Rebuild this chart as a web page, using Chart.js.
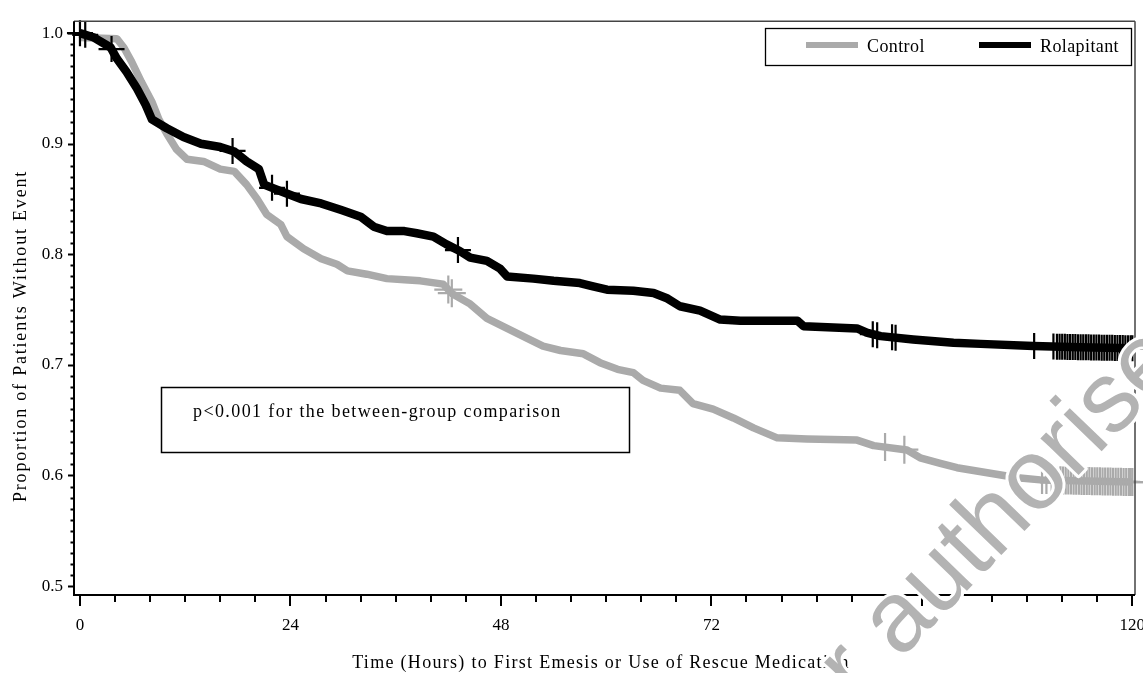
<!DOCTYPE html>
<html>
<head>
<meta charset="utf-8">
<script src="https://cdn.jsdelivr.net/npm/chart.js@4"></script>
<style>
  html, body { margin: 0; padding: 0; background: #fff; }
  #wrap { width: 1143px; height: 673px; }
</style>
</head>
<body>
<div id="wrap"><canvas id="kmChart" width="1143" height="673"></canvas></div>
<script>
// Kaplan-Meier estimates (hours, proportion without event)
const rolaTimes = [0, 1.6, 3.5, 4.2, 5.3, 6.5, 7.5, 8.2, 9.9, 11.8, 13.8, 16, 17.6, 19, 20.4, 21, 22.9, 25.2, 27.5, 29.8, 32, 33.5, 35, 37, 38.4, 40.3, 41.8, 43.3, 44.5, 46.4, 47.9, 48.7, 51.7, 54, 57, 58.5, 60.1, 63.1, 65.4, 67, 68.4, 70.7, 73, 75.3, 81.8, 82.5, 88.6, 89.8, 91.3, 95, 99.6, 102.7, 108.7, 114, 120];
const rolaValues = [1.0, 0.996, 0.987, 0.977, 0.965, 0.95, 0.935, 0.922, 0.914, 0.906, 0.900, 0.897, 0.893, 0.884, 0.877, 0.863, 0.857, 0.850, 0.846, 0.840, 0.834, 0.825, 0.821, 0.821, 0.819, 0.816, 0.809, 0.803, 0.797, 0.794, 0.787, 0.780, 0.778, 0.776, 0.774, 0.771, 0.768, 0.767, 0.765, 0.760, 0.753, 0.749, 0.741, 0.740, 0.740, 0.735, 0.733, 0.729, 0.726, 0.723, 0.720, 0.719, 0.717, 0.716, 0.715];

const ctrlTimes = [0, 4.2, 5, 5.9, 7, 8.2, 9, 9.9, 11, 12.2, 14.1, 16, 17.6, 19, 20.2, 21.3, 22.9, 23.6, 25.5, 27.5, 29.3, 30.5, 32.7, 35, 37, 38.8, 41.4, 42.5, 44.5, 46.4, 48.7, 51, 52.8, 54.8, 57.4, 59.3, 61.3, 63.1, 64.2, 66.2, 68.4, 69.9, 72.2, 74.5, 76.8, 79.5, 82.9, 88.6, 90.5, 94.3, 95.8, 98.1, 100, 103.8, 106.9, 109.5, 120];
const ctrlValues = [0.996, 0.995, 0.987, 0.974, 0.956, 0.938, 0.922, 0.909, 0.895, 0.886, 0.884, 0.877, 0.875, 0.863, 0.850, 0.836, 0.827, 0.816, 0.805, 0.796, 0.791, 0.785, 0.782, 0.778, 0.777, 0.776, 0.773, 0.764, 0.755, 0.742, 0.733, 0.724, 0.717, 0.713, 0.710, 0.702, 0.696, 0.693, 0.686, 0.679, 0.677, 0.665, 0.660, 0.652, 0.643, 0.634, 0.633, 0.632, 0.627, 0.623, 0.616, 0.611, 0.607, 0.602, 0.598, 0.596, 0.594];

// censored observations (tick marks)
const rolaCensored = [0, 0.6, 3.6, 17.4, 21.9, 23.6, 43.1, 90.4, 90.9, 92.6, 93.0, 108.8, 111.0, 111.4, 111.7, 112.0, 112.3, 112.6, 112.9, 113.2, 113.5, 113.8, 114.1, 114.4, 114.7, 115.0, 115.3, 115.6, 115.9, 116.2, 116.5, 116.8, 117.1, 117.4, 117.7, 118.0, 118.3, 118.6, 118.9, 119.2, 119.5, 119.8, 120];
const ctrlCensored = [42.0, 42.4, 91.8, 94.0, 109.7, 110.2, 110.8, 111.3, 111.8, 112.1, 112.4, 112.7, 113.0, 113.3, 113.6, 113.9, 114.2, 114.5, 114.8, 115.1, 115.4, 115.7, 116.0, 116.3, 116.6, 116.9, 117.2, 117.5, 117.8, 118.1, 118.4, 118.7, 119.0, 119.3, 119.6, 119.8, 120];

const xTickLabels = [0, 24, 48, 72, 96, 120];
const yTickLabels = [0.5, 0.6, 0.7, 0.8, 0.9, 1.0];
const groupNames = ['Control', 'Rolapitant'];

const GREY = '#aaaaaa';
const serif = "'Liberation Serif', 'Times New Roman', serif";

function toPoints(times, vals) {
    return times.map((t, i) => ({ x: t, y: vals[i] }));
}

// value on the drawn curve at time t
function curveAt(times, vals, t) {
    for (let i = 1; i < times.length; i++) {
        if (t <= times[i]) {
            const f = (t - times[i - 1]) / (times[i] - times[i - 1]);
            return vals[i - 1] + f * (vals[i] - vals[i - 1]);
        }
    }
    return vals[vals.length - 1];
}

const decorPlugin = {
    id: 'kmDecor',
    afterDraw(chart) {
        const ctx = chart.ctx;
        const a = chart.chartArea;
        const xs = chart.scales.x, ys = chart.scales.y;
        ctx.save();

        // frame
        ctx.strokeStyle = '#444';
        ctx.lineWidth = 1.5;
        ctx.beginPath();
        ctx.moveTo(a.left, a.top); ctx.lineTo(a.right, a.top);
        ctx.moveTo(a.right, a.top); ctx.lineTo(a.right, a.bottom);
        ctx.stroke();
        ctx.strokeStyle = '#000';
        ctx.lineWidth = 2;
        ctx.beginPath();
        ctx.moveTo(a.left, a.top); ctx.lineTo(a.left, a.bottom + 1);
        ctx.moveTo(a.left, a.bottom); ctx.lineTo(a.right, a.bottom);
        ctx.stroke();

        // tick marks
        ctx.lineWidth = 2;
        ctx.beginPath();
        for (let t = 0; t <= 120; t += 4) {
            const px = Math.round(xs.getPixelForValue(t));
            ctx.moveTo(px, a.bottom);
            ctx.lineTo(px, a.bottom + (t % 24 === 0 ? 11 : 7));
        }
        for (let i = 0; i <= 50; i++) {
            const py = Math.round(ys.getPixelForValue(0.5 + i / 100)) + 0.5;
            ctx.moveTo(a.left, py);
            ctx.lineTo(a.left - (i % 10 === 0 ? 6 : 3.5), py);
        }
        ctx.stroke();

        // legend
        ctx.lineWidth = 1.3;
        ctx.strokeStyle = '#000';
        ctx.strokeRect(765.5, 28.5, 366, 37);
        ctx.fillStyle = GREY;
        ctx.fillRect(806, 42, 52, 6);
        ctx.fillStyle = '#000';
        ctx.fillRect(979, 42, 52, 6);
        ctx.font = '18px ' + serif;
        ctx.letterSpacing = '0.4px';
        ctx.textBaseline = 'alphabetic';
        ctx.textAlign = 'left';
        ctx.fillText(groupNames[0], 867, 52);
        ctx.fillText(groupNames[1], 1040, 52);

        // p-value box
        ctx.lineWidth = 1.5;
        ctx.strokeRect(161.5, 387.5, 468, 65);
        ctx.letterSpacing = '1.4px';
        ctx.fillText('p<0.001 for the between-group comparison', 193, 417);

        // axis titles
        ctx.textAlign = 'center';
        ctx.letterSpacing = '1.3px';
        ctx.fillText('Time (Hours) to First Emesis or Use of Rescue Medication', 601, 668);
        ctx.save();
        ctx.translate(26, 336);
        ctx.rotate(-Math.PI / 2);
        ctx.letterSpacing = '1.8px';
        ctx.fillText('Proportion of Patients Without Event', 0, 0);
        ctx.restore();

        // watermark
        const mark = 'Medicinal product no longer authorised';
        const prefix = 'Medicinal product no longer ';
        const ang = 46 * Math.PI / 180;
        ctx.letterSpacing = '0px';
        ctx.font = '100px "Liberation Sans", Arial, sans-serif';
        ctx.textAlign = 'left';
        const pw = ctx.measureText(prefix).width;
        const ox = 900 - pw * Math.cos(ang);
        const oy = 660 + pw * Math.sin(ang);
        ctx.translate(ox, oy);
        ctx.rotate(-ang);
        ctx.lineJoin = 'round';
        ctx.strokeStyle = '#fff';
        ctx.lineWidth = 6;
        ctx.strokeText(mark, 0, 0);
        ctx.fillStyle = '#b3b3b3';
        ctx.fillText(mark, 0, 0);

        ctx.restore();
    }
};

const data = {
    datasets: [
        {
            label: 'censored',
            data: rolaCensored.map(t => ({ x: t, y: curveAt(rolaTimes, rolaValues, t) })),
            showLine: false,
            pointStyle: 'cross',
            pointRadius: 13,
            borderColor: '#000',
            borderWidth: 2.2,
            clip: false,
            order: 0
        },
        {
            label: 'censored',
            data: ctrlCensored.map(t => ({ x: t, y: curveAt(ctrlTimes, ctrlValues, t) })),
            showLine: false,
            pointStyle: 'cross',
            pointRadius: 14,
            borderColor: GREY,
            borderWidth: 2.2,
            clip: false,
            order: 3
        },
        {
            label: groupNames[1],
            data: toPoints(rolaTimes, rolaValues),
            borderColor: '#000',
            borderWidth: 8.5,
            pointRadius: 0,
            tension: 0,
            borderJoinStyle: 'round',
            order: 1
        },
        {
            label: groupNames[0],
            data: toPoints(ctrlTimes, ctrlValues),
            borderColor: GREY,
            borderWidth: 7.5,
            pointRadius: 0,
            tension: 0,
            borderJoinStyle: 'round',
            order: 4
        }
    ]
};

const config = {
    type: 'line',
    data: data,
    options: {
        responsive: false,
        animation: false,
        layout: { autoPadding: false, padding: { left: 0, top: 19, right: 8, bottom: 0 } },
        plugins: {
            legend: { display: false },
            tooltip: { enabled: false }
        },
        scales: {
            x: {
                type: 'linear',
                min: -0.68,
                max: 120.3,
                grid: { display: false, drawTicks: false },
                border: { display: false },
                afterBuildTicks: s => { s.ticks = xTickLabels.map(v => ({ value: v })); },
                afterFit: s => { s.height = 78; s.paddingLeft = 0; s.paddingRight = 0; },
                ticks: {
                    autoSkip: false,
                    maxRotation: 0,
                    padding: 20,
                    color: '#000',
                    font: { family: serif, size: 17 }
                }
            },
            y: {
                min: 0.4919,
                max: 1.0108,
                grid: { display: false, drawTicks: false },
                border: { display: false },
                afterBuildTicks: s => { s.ticks = yTickLabels.map(v => ({ value: v })); },
                afterFit: s => { s.width = 74; },
                ticks: {
                    autoSkip: false,
                    padding: 11,
                    color: '#000',
                    font: { family: serif, size: 17 },
                    callback: v => v.toFixed(1)
                }
            }
        }
    },
    plugins: [decorPlugin]
};

new Chart(document.getElementById('kmChart').getContext('2d'), config);
</script>
</body>
</html>
